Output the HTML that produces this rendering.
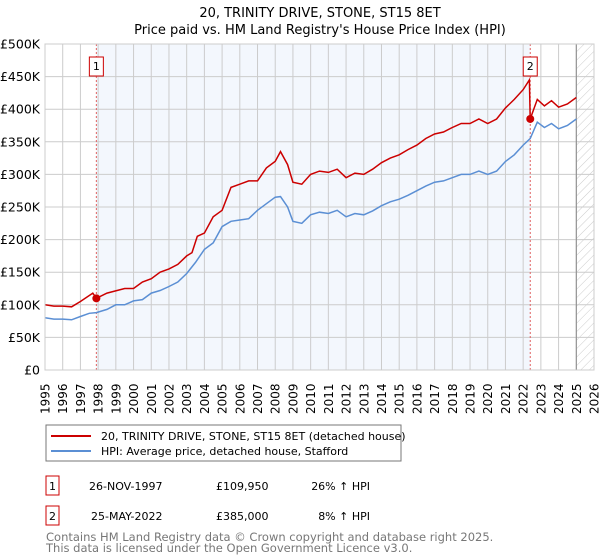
<!DOCTYPE html>
<html><head><meta charset="utf-8"><style>
body{margin:0;background:#fff;}
svg{display:block;font-family:"DejaVu Sans","Liberation Sans",sans-serif;}
</style></head><body>
<svg id="chart" width="600" height="560" viewBox="0 0 600 560">
<defs><pattern id="hatch" width="6" height="6" patternUnits="userSpaceOnUse" patternTransform="rotate(45)"><line x1="0" y1="0" x2="0" y2="6" stroke="#ccc" stroke-width="1"/></pattern></defs>
<text x="320" y="17" text-anchor="middle" font-size="13">20, TRINITY DRIVE, STONE, ST15 8ET</text>
<text x="320" y="34" text-anchor="middle" font-size="13">Price paid vs. HM Land Registry's House Price Index (HPI)</text>
<g id="plot"></g>
<rect x="46" y="425" width="355" height="36" fill="#fff" stroke="#777"/>
<line x1="51" y1="436" x2="91" y2="436" stroke="#cc0000" stroke-width="2"/>
<text x="101" y="440" font-size="11">20, TRINITY DRIVE, STONE, ST15 8ET (detached house)</text>
<line x1="51" y1="451" x2="91" y2="451" stroke="#5b8fd4" stroke-width="2"/>
<text x="101" y="455" font-size="11">HPI: Average price, detached house, Stafford</text>
<g font-size="11">
<rect x="46" y="476" width="13" height="19" fill="#fff" stroke="#cc0000"/>
<text x="52.5" y="490" text-anchor="middle">1</text>
<text x="89" y="490">26-NOV-1997</text>
<text x="216" y="490">£109,950</text>
<text x="370" y="490" text-anchor="end">26% ↑ HPI</text>
<rect x="46" y="506" width="13" height="19" fill="#fff" stroke="#cc0000"/>
<text x="52.5" y="520" text-anchor="middle">2</text>
<text x="91" y="520">25-MAY-2022</text>
<text x="216" y="520">£385,000</text>
<text x="370" y="520" text-anchor="end">8% ↑ HPI</text>
</g>
<text x="46" y="541" font-size="11.5" fill="#777">Contains HM Land Registry data © Crown copyright and database right 2025.</text>
<text x="46" y="552" font-size="11.5" fill="#777">This data is licensed under the Open Government Licence v3.0.</text>
</svg>
<script>
const years=[1995,1996,1997,1998,1999,2000,2001,2002,2003,2004,2005,2006,2007,2008,2009,2010,2011,2012,2013,2014,2015,2016,2017,2018,2019,2020,2021,2022,2023,2024,2025,2026];
const yTicks=[0,50,100,150,200,250,300,350,400,450,500];
const yTickLabels=["£0","£50K","£100K","£150K","£200K","£250K","£300K","£350K","£400K","£450K","£500K"];
const hpiT=[1995,1995.5,1996,1996.5,1997,1997.5,1997.9,1998.5,1999,1999.5,2000,2000.5,2001,2001.5,2002,2002.5,2003,2003.5,2004,2004.5,2005,2005.5,2006,2006.5,2007,2007.5,2008,2008.3,2008.7,2009,2009.5,2010,2010.5,2011,2011.5,2012,2012.5,2013,2013.5,2014,2014.5,2015,2015.5,2016,2016.5,2017,2017.5,2018,2018.5,2019,2019.5,2020,2020.5,2021,2021.5,2022,2022.4,2022.8,2023.2,2023.6,2024,2024.5,2025];
const hpiV=[80,78,78,77,82,87,88,93,100,100,106,108,118,122,128,135,148,165,185,195,220,228,230,232,245,255,265,266,250,228,225,238,242,240,245,235,240,238,244,252,258,262,268,275,282,288,290,295,300,300,305,300,305,320,330,345,355,380,372,378,370,375,385];
const priceT=[1995,1995.5,1996,1996.5,1997,1997.7,1997.9,1998.5,1999.5,2000,2000.5,2001,2001.5,2002,2002.5,2003,2003.3,2003.6,2004,2004.5,2005,2005.5,2006,2006.5,2007,2007.5,2008,2008.3,2008.7,2009,2009.5,2010,2010.5,2011,2011.5,2012,2012.5,2013,2013.5,2014,2014.5,2015,2015.5,2016,2016.5,2017,2017.5,2018,2018.5,2019,2019.5,2020,2020.5,2021,2021.5,2022,2022.35,2022.4,2022.8,2023.2,2023.6,2024,2024.5,2025];
const priceV=[100,98,98,97,105,118,110,118,125,125,135,140,150,155,162,175,180,205,210,235,245,280,285,290,290,310,320,335,315,288,285,300,305,303,308,295,302,300,308,318,325,330,338,345,355,362,365,372,378,378,385,378,385,402,415,430,445,385,415,405,413,403,408,418];
const saleT=[1997.9,2022.4];
const saleV=[109.95,385];
const saleLabels=["1","2"];
const X0=45,X1=594,Y0=370,Y1=44;
const x=t=>X0+(t-1995)/(2026-1995)*(X1-X0);
const y=v=>Y0-v/500*(Y0-Y1);
const NS="http://www.w3.org/2000/svg";
const g=document.getElementById('plot');
function mk(tag,at,parent){const e=document.createElementNS(NS,tag);for(const k in at)e.setAttribute(k,at[k]);(parent||g).appendChild(e);return e;}
let e;
e=mk('rect',{x:x(saleT[0]),y:Y1,width:x(saleT[1])-x(saleT[0]),height:Y0-Y1,fill:'#eef3fc',opacity:0.7});


e=mk('rect',{x:x(2025),y:Y1,width:X1-x(2025),height:Y0-Y1,fill:'url(#hatch)'});


years.forEach(yr=>{
 e=mk('line',{x1:x(yr),x2:x(yr),y1:Y1,y2:Y0,stroke:'#ccc','stroke-width':1});
 
 
 const tx=x(yr)+4.5;
 e=mk('text',{x:tx,y:414,transform:`rotate(-90 ${tx} 414)`,'font-size':12});
 e.textContent=yr;
 
 
});
yTicks.forEach((v,i)=>{
 e=mk('line',{x1:X0,x2:X1,y1:y(v),y2:y(v),stroke:'#ccc','stroke-width':1});
 
 
 e=mk('text',{x:40,y:y(v)+4.5,'text-anchor':'end','font-size':12.5});
 e.textContent=yTickLabels[i];
 
 
});
e=mk('line',{x1:x(2025),x2:x(2025),y1:Y1,y2:Y0,stroke:'#888','stroke-width':1});


saleT.forEach((t,i)=>{
 e=mk('line',{x1:x(t),x2:x(t),y1:Y1,y2:Y0,stroke:'#e06060','stroke-width':1,'stroke-dasharray':'2,2'});
 
 
});
const path=(T,V)=>T.map((t,i)=>(i?'L':'M')+x(t).toFixed(1)+','+y(V[i]).toFixed(1)).join('');
e=mk('path',{d:path(hpiT,hpiV),fill:'none',stroke:'#5b8fd4','stroke-width':1.5});


e=mk('path',{d:path(priceT,priceV),fill:'none',stroke:'#cc0000','stroke-width':1.5});


saleT.forEach((t,i)=>{
 e=mk('circle',{cx:x(t),cy:y(saleV[i]),r:4,fill:'#cc0000'});
 
 
 e=mk('rect',{x:x(t)-7,y:57,width:14,height:19,fill:'#fff',stroke:'#cc0000'});
 
 
 e=mk('text',{x:x(t),y:70,'text-anchor':'middle','font-size':11});
 e.textContent=saleLabels[i];
 
 
});
e=mk('rect',{x:X0,y:Y1,width:X1-X0,height:Y0-Y1,fill:'none',stroke:'#ccc'});


</script>
</body></html>
